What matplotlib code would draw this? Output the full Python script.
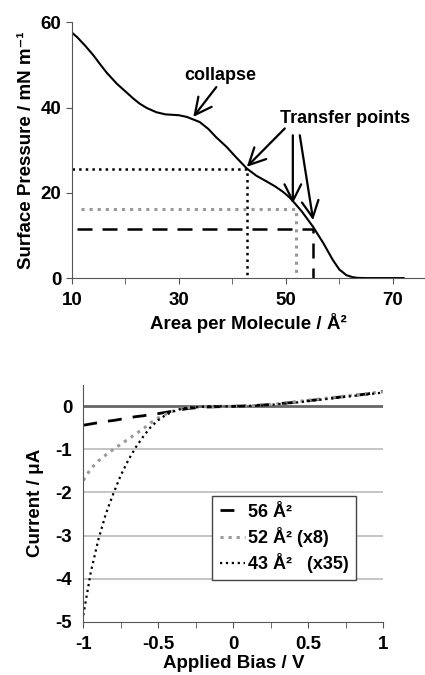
import numpy as np
import matplotlib.pyplot as plt

plt.rcParams['font.family'] = ['Liberation Sans', 'DejaVu Sans']
plt.rcParams['font.weight'] = 'bold'

# isotherm (top panel)
area = [10, 11, 12.5, 14, 15.2, 16.5, 18.4, 20, 21.5, 22.7, 24, 25.8, 27.5, 30, 31.5,
        33.9, 35.5, 37, 38.9, 40.5, 42.7, 44.5, 46.5, 48, 49.5, 50.7, 51.7, 53, 55.1,
        57, 58.8, 60, 61.3, 62.5, 63.5, 65, 68, 72]
pressure = [57.6, 56.5, 54.5, 52.3, 50.3, 48.2, 45.6, 43.8, 42.1, 40.9, 39.9, 38.9, 38.4,
            38.2, 37.8, 36.6, 35.0, 33.0, 30.8, 28.6, 25.7, 24.0, 22.6, 21.5, 20.2, 18.9,
            17.5, 15.6, 12.0, 8.2, 4.2, 2.0, 0.7, 0.2, 0.05, 0, 0, 0]

# transfer points (area, pressure)
tp_black = (42.7, 25.6)
tp_gray = (51.9, 16.1)
tp_dash = (55.1, 11.6)

# I-V curves (bottom panel)
bias = [-1.0, -0.95, -0.9, -0.85, -0.8, -0.75, -0.7, -0.65, -0.6, -0.55, -0.5, -0.45,
        -0.4, -0.35, -0.3, -0.2, -0.1, 0, 0.1, 0.2, 0.3, 0.4, 0.5, 0.6, 0.7, 0.8, 0.9, 1.0]
i56 = [-0.44, -0.41, -0.38, -0.35, -0.33, -0.30, -0.27, -0.24, -0.22, -0.19, -0.17, -0.14,
       -0.11, -0.08, -0.05, -0.02, -0.01, 0, 0.01, 0.03, 0.06, 0.09, 0.13, 0.17, 0.21,
       0.25, 0.29, 0.35]
i52 = [-1.72, -1.45, -1.27, -1.13, -1.0, -0.88, -0.76, -0.64, -0.52, -0.38, -0.27, -0.18,
       -0.11, -0.06, -0.03, -0.01, 0, 0, 0.01, 0.03, 0.06, 0.10, 0.14, 0.18, 0.22, 0.26,
       0.30, 0.34]
i43 = [-4.85, -3.85, -3.1, -2.5, -2.03, -1.6, -1.25, -0.95, -0.7, -0.48, -0.32, -0.2,
       -0.12, -0.06, -0.03, -0.01, 0, 0, 0.01, 0.02, 0.05, 0.08, 0.12, 0.16, 0.2, 0.24,
       0.28, 0.32]
labels = ['56 Å²', '52 Å² (x8)', '43 Å²   (x35)']

fig = plt.figure(figsize=(4.25, 6.75), dpi=100)

# ---- top panel
ax1 = fig.add_axes([0.169, 0.588, 0.831, 0.379])
ax1.plot(area, pressure, color='black', lw=1.5)
ax1.plot([10, tp_black[0], tp_black[0]], [tp_black[1], tp_black[1], 0],
         color='black', ls=':', lw=1.8)
ax1.plot([11.8, tp_gray[0], tp_gray[0]], [tp_gray[1], tp_gray[1], 0],
         color='#999999', ls=':', lw=2.2)
ax1.plot([11, tp_dash[0], tp_dash[0]], [tp_dash[1], tp_dash[1], 0],
         color='black', ls=(0, (6, 4)), lw=1.8)

arr = dict(arrowstyle='->, head_length=1.2, head_width=0.6', lw=1.6, color='black',
           shrinkA=0, shrinkB=0)
ax1.text(37.7, 47.5, 'collapse', ha='center', va='center', fontsize=13, weight='bold')
ax1.annotate('', xy=(32.7, 37.8), xytext=(37.0, 44.8), arrowprops=arr)
ax1.text(61, 37.4, 'Transfer points', ha='center', va='center', fontsize=13, weight='bold')
ax1.annotate('', xy=(42.7, 26.1), xytext=(49.8, 35.1), arrowprops=arr)
ax1.annotate('', xy=(51.3, 17.5), xytext=(51.3, 33.5), arrowprops=arr)
ax1.annotate('', xy=(55.1, 13.6), xytext=(52.6, 33.5), arrowprops=arr)

ax1.set_xlim(10, 76)
ax1.set_ylim(0, 60)
ax1.set_xticks([10, 30, 50, 70])
ax1.set_xticks([20, 40, 60], minor=True)
ax1.set_yticks([0, 20, 40, 60])
ax1.spines['top'].set_visible(False)
ax1.spines['right'].set_visible(False)
ax1.spines['left'].set_color('#555555')
ax1.spines['bottom'].set_color('#555555')
ax1.tick_params(which='both', direction='out', length=4, color='#555555', labelsize=13.5)
ax1.tick_params(axis='x', pad=6)
ax1.set_xlabel('Area per Molecule / Å²', fontsize=13.5, weight='bold', labelpad=3)
ax1.set_ylabel('Surface Pressure / mN m⁻¹', fontsize=13.5, weight='bold', labelpad=4)

# ---- bottom panel
ax2 = fig.add_axes([0.196, 0.079, 0.706, 0.351])
for y in [-1, -2, -3, -4]:
    ax2.axhline(y, color='#bbbbbb', lw=1.2, zorder=0)
ax2.axhline(0, color='#666666', lw=2, zorder=1)
ax2.plot(bias, i56, color='black', ls=(0, (5, 4)), lw=2, label=labels[0])
ax2.plot(bias, i52, color='#999999', ls=':', lw=2.2, label=labels[1])
ax2.plot(bias, i43, color='black', ls=':', lw=1.6, label=labels[2])

ax2.set_xlim(-1, 1)
ax2.set_ylim(-5, 0.5)
ax2.set_xticks([-1, -0.5, 0, 0.5, 1])
ax2.set_xticklabels(['-1', '-0.5', '0', '0.5', '1'])
ax2.set_xticks([-0.75, -0.25, 0.25, 0.75], minor=True)
ax2.set_yticks([0, -1, -2, -3, -4, -5])
ax2.set_yticklabels(['0', '-1', '-2', '-3', '-4', '-5'])
ax2.spines['top'].set_visible(False)
ax2.spines['right'].set_visible(False)
ax2.spines['left'].set_color('#555555')
ax2.spines['bottom'].set_color('#555555')
ax2.tick_params(axis='x', which='both', direction='out', length=4, color='#555555',
                labelsize=13.5, pad=6)
ax2.tick_params(axis='y', length=0, labelsize=13.5, pad=8)
ax2.set_xlabel('Applied Bias / V', fontsize=13.5, weight='bold', labelpad=2)
ax2.set_ylabel('Current / μA', fontsize=13.5, weight='bold', labelpad=8)

leg = ax2.legend(loc='upper left', bbox_to_anchor=(0.43, 0.529), fontsize=13,
                 handlelength=1.4, handletextpad=0.15, labelspacing=0.35,
                 borderpad=0.4, borderaxespad=0, fancybox=False, framealpha=1)
leg.get_frame().set_edgecolor('#444444')
leg.get_frame().set_linewidth(1.0)
for t in leg.get_texts():
    t.set_fontweight('bold')

fig.savefig('out.png', dpi=100)
